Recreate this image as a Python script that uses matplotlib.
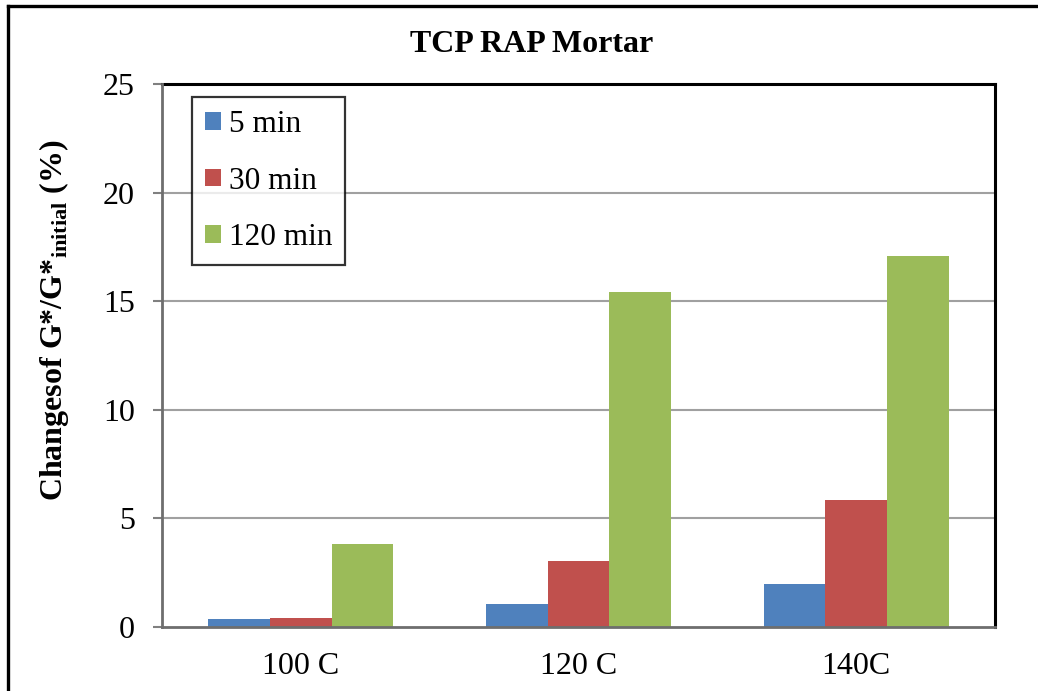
import matplotlib
matplotlib.use("Agg")
import matplotlib.pyplot as plt
from matplotlib.lines import Line2D
import numpy as np

categories = ["100 C", "120 C", "140C"]
series_names = ["5 min", "30 min", "120 min"]
vals_5 = [0.37, 1.06, 1.98]
vals_30 = [0.42, 3.04, 5.85]
vals_120 = [3.82, 15.42, 17.10]
colors = ["#4F81BD", "#C0504D", "#9BBB59"]
yticks = [0, 5, 10, 15, 20, 25]

plt.rcParams['font.family'] = ['Liberation Serif', 'DejaVu Serif']
plt.rcParams['mathtext.fontset'] = 'custom'
plt.rcParams['mathtext.rm'] = 'Liberation Serif'
plt.rcParams['mathtext.bf'] = 'Liberation Serif:bold'

W, H = 1038, 691
fig = plt.figure(figsize=(W / 100, H / 100), dpi=100)
ax = fig.add_axes([162 / W, 1 - 627 / H, (995 - 162) / W, (627 - 84) / H])

x = np.arange(len(categories))
w = 0.222
for i, (vals, name) in enumerate(zip([vals_5, vals_30, vals_120], series_names)):
    ax.bar(x + (i - 1) * w, vals, width=w, color=colors[i], label=name, zorder=3)

ax.set_xlim(-0.5, 2.5)
ax.set_ylim(0, 25)
ax.set_yticks(yticks)
ax.set_xticks(x)
ax.set_xticklabels(categories)
ax.tick_params(axis='x', length=0, pad=18, labelsize=23)
ax.tick_params(axis='y', length=6.5, width=1.5, color='#808080', pad=13, labelsize=23, direction='out')

for y in yticks[1:-1]:
    ax.axhline(y, color='#a0a0a0', lw=1.5, zorder=1)

for s in ['top', 'right']:
    ax.spines[s].set_color('black')
    ax.spines[s].set_linewidth(2.2)
for s in ['left', 'bottom']:
    ax.spines[s].set_color('#6e6e6e')
    ax.spines[s].set_linewidth(2.0)
    ax.spines[s].set_zorder(4)

fig.text(54 / W, 1 - 320 / H, r'Changesof G*/G*$_{\mathbf{initial}}$ (%)', fontsize=23, fontweight='bold',
         rotation=90, ha='center', va='center')

fig.text(532 / W, 1 - 45 / H, "TCP RAP Mortar", fontsize=23, fontweight='bold', ha='center', va='center')

leg = ax.legend(loc='upper left', bbox_to_anchor=(192 / W, 1 - 97 / H), bbox_transform=fig.transFigure,
                fontsize=22.5, frameon=True, fancybox=False, edgecolor='black', borderaxespad=0,
                handlelength=0.5, handleheight=0.5, handletextpad=0.25, labelspacing=0.88,
                borderpad=0.42)
leg.get_frame().set_linewidth(1.6)

fig.add_artist(Line2D([7.5 / W, 7.5 / W], [0, 1 - 5.5 / H], transform=fig.transFigure, color='black', lw=2.4))
fig.add_artist(Line2D([7.5 / W, 1.0], [1 - 5.5 / H, 1 - 5.5 / H], transform=fig.transFigure, color='black', lw=2.4))

fig.savefig("out.png", dpi=100)
